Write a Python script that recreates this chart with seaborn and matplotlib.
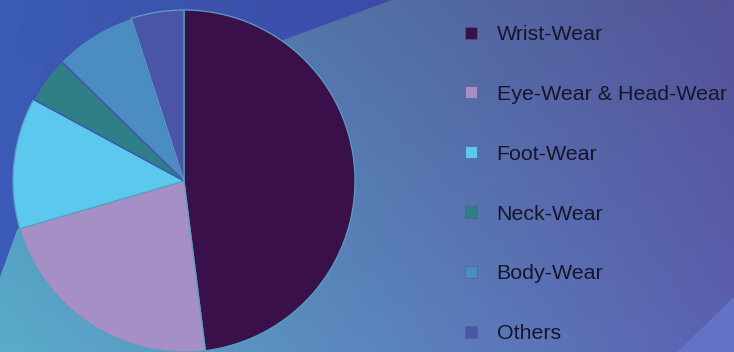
import numpy as np
import matplotlib
matplotlib.use("Agg")
import matplotlib.pyplot as plt
from matplotlib.path import Path
from matplotlib.patches import PathPatch, Polygon
from matplotlib.lines import Line2D
import seaborn as sns

# ---- data ----
categories = ["Wrist-Wear", "Eye-Wear & Head-Wear", "Foot-Wear",
              "Neck-Wear", "Body-Wear", "Others"]
shares = [48.0, 22.5, 12.4, 4.4, 7.7, 5.0]
slice_colors = ["#3a104a", "#a58fc5", "#5cc8ee", "#2e8086", "#4b8cc3", "#4b55a8"]

sns.set_theme(style="white")
plt.rcParams["font.family"] = ["Liberation Sans", "DejaVu Sans"]

W, H = 734, 352
fig = plt.figure(figsize=(W / 100, H / 100), dpi=100)

# ---- background ----
bg = fig.add_axes([0, 0, 1, 1])
bg.set_xlim(0, W)
bg.set_ylim(H, 0)
bg.axis("off")

xs = np.linspace(0, 1, 200)
ys = np.linspace(0, 1, 100)
X, Y = np.meshgrid(xs, ys)

def bilinear(tl, tr, bl, br):
    tl, tr, bl, br = [np.array(c, float)[None, None, :] / 255 for c in (tl, tr, bl, br)]
    Xe, Ye = X[..., None], Y[..., None]
    top = tl * (1 - Xe) + tr * Xe
    bot = bl * (1 - Xe) + br * Xe
    return np.clip(top * (1 - Ye) + bot * Ye, 0, 1)

dark = bilinear((58, 92, 178), (64, 60, 158), (62, 90, 188), (70, 70, 170))
bg.imshow(dark, extent=(0, W, H, 0), aspect="auto", interpolation="bilinear", zorder=0)

light = bilinear((80, 140, 180), (84, 82, 152), (90, 172, 202), (92, 96, 178))
im = bg.imshow(light, extent=(0, W, H, 0), aspect="auto", interpolation="bilinear", zorder=1)
boundary = [(392, 0), (283, 40), (200, 80), (120, 130), (60, 180), (17, 230), (0, 277),
            (0, H), (W, H), (W, 0), (392, 0)]
clip = PathPatch(Path(boundary), transform=bg.transData, facecolor="none", edgecolor="none")
bg.add_patch(clip)
im.set_clip_path(clip)

bg.add_patch(Polygon([(677, H), (W, 297), (W, H)], closed=True,
                     facecolor="#6272c6", edgecolor="none", zorder=2))

# ---- pie ----
pal = sns.color_palette(slice_colors)
ax = fig.add_axes([13 / W, 0, 342 / W, 342 / H])
wedges, _ = ax.pie(shares, colors=pal, startangle=90, counterclock=False, radius=1,
                   wedgeprops=dict(edgecolor="#5a9ec0", linewidth=0.9))
# thin background-coloured seams on the small upper-left slices
for w in wedges[3:5]:
    w.set_edgecolor("#3f55b0")
    w.set_linewidth(1.0)
ax.set_xlim(-1, 1)
ax.set_ylim(-1, 1)
ax.set_aspect("equal")
ax.axis("off")

# ---- legend ----
handles = [Line2D([0], [0], marker="s", linestyle="none", markersize=8.6,
                  markerfacecolor=c, markeredgecolor="#555a8a", markeredgewidth=0.4)
           for c in pal]
leg = fig.legend(handles, categories, loc="upper left",
                 bbox_to_anchor=(462 / W, 1 - 25 / H), frameon=False,
                 fontsize=15.4, labelspacing=1.91, handlelength=0.8,
                 handletextpad=0.82, borderpad=0, borderaxespad=0)
for t in leg.get_texts():
    t.set_color("#16162a")

fig.savefig("out.png", dpi=100)
